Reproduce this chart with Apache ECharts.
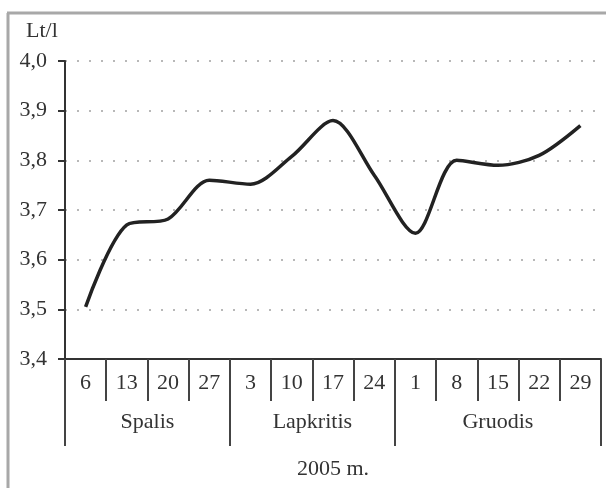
<!DOCTYPE html>
<html>
<head>
<meta charset="utf-8">
<script src="https://cdn.jsdelivr.net/npm/echarts@6/dist/echarts.min.js"></script>
<style>
    html, body { margin: 0; padding: 0; background: #fff; }
    #chart { width: 606px; height: 488px; }
</style>
</head>
<body>
<div id="chart"></div>
<script>
// savaites (dienos)
var days = ['6', '13', '20', '27', '3', '10', '17', '24', '1', '8', '15', '22', '29'];
// kaina, Lt/l
var prices = [3.505, 3.67, 3.682, 3.76, 3.752, 3.808, 3.88, 3.77, 3.653, 3.80, 3.79, 3.81, 3.87];
// menesiai ir ju ribos (savaiciu indeksais)
var months = ['Spalis', 'Lapkritis', 'Gruodis'];
var monthEdges = [0, 4, 8, 13];
var monthCenters = [2, 6, 10.5];
var yearLabel = '2005 m.';
var unitLabel = 'Lt/l';

var font = '"Liberation Serif", "DejaVu Serif", serif';

function initChart() {
    var myChart = echarts.init(document.getElementById('chart'));
    var option = {
        animation: false,
        title: {
            text: unitLabel,
            left: 21,
            top: 15,
            textStyle: {
                fontFamily: font,
                fontSize: 22,
                fontWeight: 'normal',
                color: '#333'
            }
        },
        grid: {
            left: 65,
            right: 5,
            top: 61,
            bottom: 129,
            containLabel: false
        },
        xAxis: [{
            type: 'category',
            data: days,
            boundaryGap: true,
            axisLine: {
                lineStyle: { color: '#333', width: 2 }
            },
            axisTick: {
                show: true,
                interval: 0,
                alignWithLabel: false,
                length: 42,
                lineStyle: { color: '#444', width: 2 }
            },
            axisLabel: {
                interval: 0,
                margin: 13,
                fontFamily: font,
                fontSize: 22,
                color: '#333'
            }
        }, {
            type: 'value',
            position: 'bottom',
            min: 0,
            max: 13,
            axisLine: { show: false },
            splitLine: { show: false },
            axisTick: {
                show: true,
                customValues: monthEdges,
                length: 87,
                lineStyle: { color: '#444', width: 2 }
            },
            axisLabel: {
                customValues: monthCenters,
                margin: 52,
                fontFamily: font,
                fontSize: 22,
                color: '#333',
                formatter: function (v) {
                    return months[monthCenters.indexOf(v)];
                }
            },
            name: yearLabel,
            nameLocation: 'middle',
            nameGap: 99,
            nameTextStyle: {
                fontFamily: font,
                fontSize: 22,
                color: '#333'
            }
        }],
        yAxis: {
            type: 'value',
            min: 3.4,
            max: 4.0,
            interval: 0.1,
            axisLine: {
                show: true,
                lineStyle: { color: '#333', width: 2 }
            },
            axisTick: {
                show: true,
                length: 7,
                lineStyle: { color: '#333', width: 2 }
            },
            axisLabel: {
                margin: 18,
                fontFamily: font,
                fontSize: 22,
                color: '#333',
                formatter: function (v) {
                    return v.toFixed(1).replace('.', ',');
                }
            },
            splitLine: {
                show: true,
                lineStyle: { color: '#b8b8b8', width: 2, type: [2, 10] }
            }
        },
        series: [{
            type: 'line',
            data: prices,
            smooth: 0.3,
            showSymbol: false,
            lineStyle: { color: '#222', width: 3.5 }
        }],
        graphic: [{
            type: 'line',
            shape: { x1: 8, y1: 13, x2: 8, y2: 488 },
            style: { stroke: '#a8a8a8', lineWidth: 3 }
        }, {
            type: 'line',
            shape: { x1: 7, y1: 13, x2: 606, y2: 13 },
            style: { stroke: '#a8a8a8', lineWidth: 3 }
        }]
    };
    myChart.setOption(option);
}

initChart();
</script>
</body>
</html>
